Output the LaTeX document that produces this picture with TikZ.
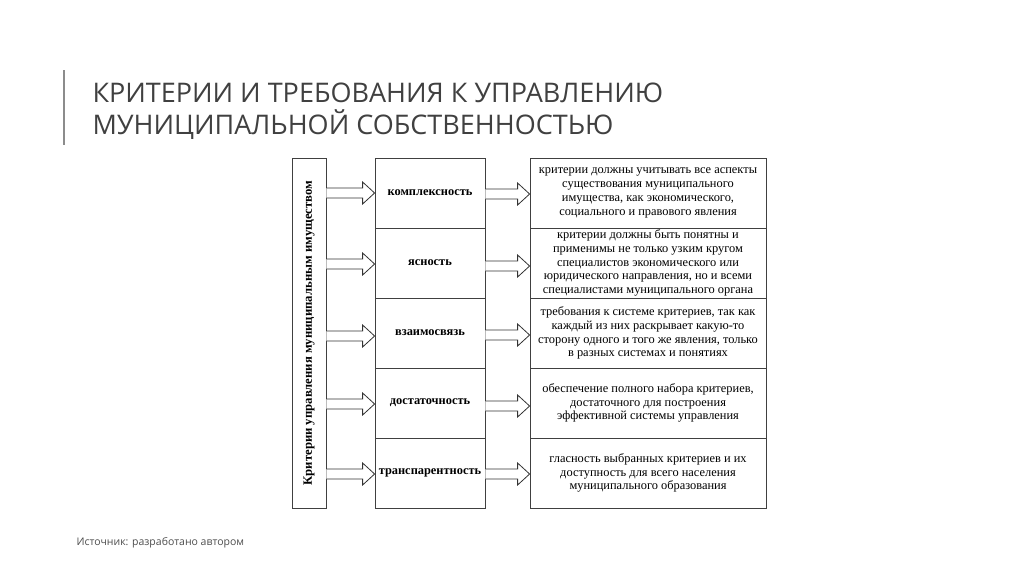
\documentclass[tikz,border=0pt]{standalone}
\usepackage{fontspec}
\setmainfont{Liberation Serif}
\newfontfamily\titlefont{Open Sans}
\usetikzlibrary{calc}
\tikzset{
  x=1pt,y=-1pt,
  cell/.style={draw=black!75,line width=0.8pt,inner sep=0pt},
  mid/.style={cell,minimum width=110pt,minimum height=70pt,font=\fontsize{12.4}{14}\selectfont\bfseries},
  desc/.style={cell,minimum width=236pt,minimum height=70pt,align=center,font=\fontsize{12.4}{13.8}\selectfont},
  barrow/.style={draw=black!80,fill=white,line width=0.8pt}
}
\newcommand\blockarr[2]{%
  \draw[barrow] ($(#1)+(0,-5)$) -- ($(#2)+(-12,-5)$) -- ($(#2)+(-12,-11)$) -- (#2) -- ($(#2)+(-12,11)$) -- ($(#2)+(-12,5)$) -- ($(#1)+(0,5)$);}
\begin{document}
\begin{tikzpicture}
\useasboundingbox (0,0) rectangle (1024,574);
\fill[black!45] (63,70) rectangle (65,145);
\node[anchor=west,text=black!75,font=\titlefont\fontsize{27}{32}\selectfont,align=left] (title) at (89,111) {КРИТЕРИИ И ТРЕБОВАНИЯ К УПРАВЛЕНИЮ\\МУНИЦИПАЛЬНОЙ СОБСТВЕННОСТЬЮ};
\node[anchor=west,text=black!70,font=\titlefont\fontsize{10.5}{12}\selectfont] (src) at (73,543) {Источник: разработано автором};
\node[cell,minimum width=34pt,minimum height=350pt] (L) at (309,333) {};
\node[rotate=90,font=\fontsize{12.7}{14}\selectfont\bfseries] (Lt) at (L.center) {Критерии управления муниципальным имуществом};
\foreach \i/\t [count=\k] in {
 1/комплексность,2/ясность,3/взаимосвязь,4/достаточность,5/транспарентность}{
  \node[mid] (m\k) at (430,{193+70*(\k-1)}) {\t};
}
\node[desc] (d1) at (648,193) {критерии должны учитывать все аспекты\\существования муниципального\\имущества, как экономического,\\социального и правового явления};
\node[desc] (d2) at (648,263) {критерии должны быть понятны и\\применимы не только узким кругом\\специалистов экономического или\\юридического направления, но и всеми\\специалистами муниципального органа};
\node[desc] (d3) at (648,333) {требования к системе критериев, так как\\каждый из них раскрывает какую-то\\сторону одного и того же явления, только\\в разных системах и понятиях};
\node[desc] (d4) at (648,403) {обеспечение полного набора критериев,\\достаточного для построения\\эффективной системы управления};
\node[desc] (d5) at (648,473) {гласность выбранных критериев и их\\доступность для всего населения\\муниципального образования};
\foreach \k/\y in {1/193,2/264,3/336,4/404,5/474}{
  \coordinate (a\k) at (L.east |- 0,\y);
  \coordinate (b\k) at (m\k.west |- 0,\y);
  \blockarr{a\k}{b\k}
  \coordinate (c\k) at ($(m\k.east)+(0,{\k==2?3:(\k==3?2:(\k==4?3:1))})$);
  \coordinate (e\k) at (d\k.west |- c\k);
  \blockarr{c\k}{e\k}
}
\end{tikzpicture}
\end{document}
